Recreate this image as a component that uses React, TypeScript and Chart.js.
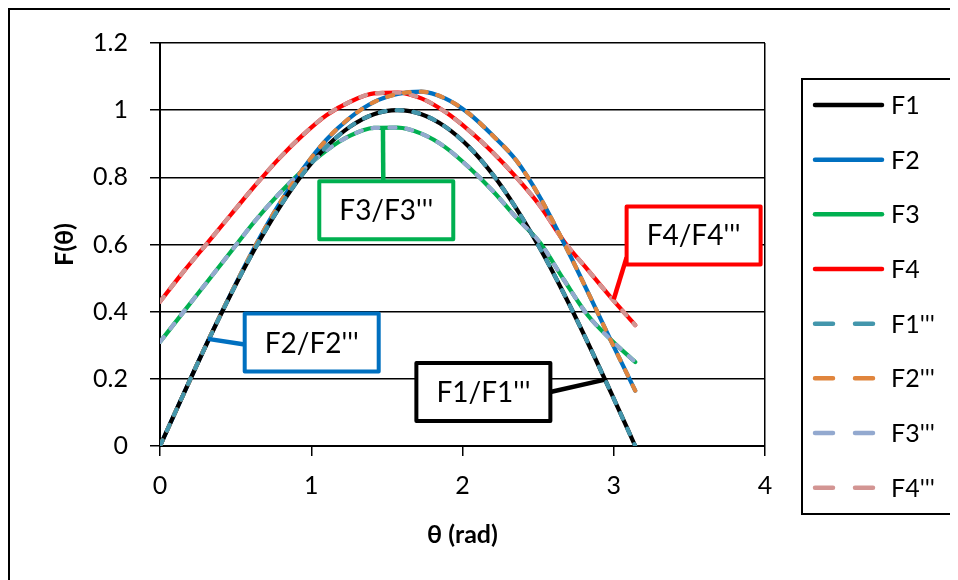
import React, { useEffect, useRef } from 'react';
import { Chart, registerables } from 'chart.js';

Chart.register(...registerables);

// ---- data ----
const theta = [0, 0.157, 0.314, 0.471, 0.628, 0.785, 0.942, 1.1, 1.257, 1.414, 1.571, 1.728, 1.885, 2.042, 2.199, 2.356, 2.513, 2.67, 2.827, 2.985, 3.142];
const F1 = [0, 0.156, 0.309, 0.454, 0.588, 0.707, 0.809, 0.891, 0.951, 0.988, 1.0, 0.988, 0.951, 0.891, 0.809, 0.707, 0.588, 0.454, 0.309, 0.156, 0];
const F2 = [0, 0.156, 0.31, 0.456, 0.594, 0.718, 0.823, 0.912, 0.978, 1.024, 1.048, 1.055, 1.035, 0.99, 0.925, 0.85, 0.74, 0.605, 0.46, 0.31, 0.165];
const F3 = [0.31, 0.4, 0.49, 0.58, 0.67, 0.75, 0.82, 0.88, 0.924, 0.947, 0.948, 0.93, 0.89, 0.83, 0.76, 0.68, 0.605, 0.495, 0.39, 0.315, 0.25];
const F4 = [0.43, 0.52, 0.605, 0.69, 0.775, 0.855, 0.925, 0.985, 1.025, 1.05, 1.052, 1.035, 0.995, 0.94, 0.875, 0.8, 0.715, 0.61, 0.525, 0.44, 0.36];
const F1ppp = [0, 0.156, 0.309, 0.454, 0.588, 0.707, 0.809, 0.891, 0.951, 0.988, 1.0, 0.988, 0.951, 0.891, 0.809, 0.707, 0.588, 0.454, 0.309, 0.156, 0];
const F2ppp = [0, 0.156, 0.31, 0.456, 0.594, 0.718, 0.823, 0.912, 0.978, 1.024, 1.048, 1.055, 1.035, 0.99, 0.925, 0.85, 0.74, 0.605, 0.46, 0.31, 0.165];
const F3ppp = [0.31, 0.4, 0.49, 0.58, 0.67, 0.75, 0.82, 0.88, 0.924, 0.947, 0.948, 0.93, 0.89, 0.83, 0.76, 0.68, 0.605, 0.495, 0.39, 0.315, 0.25];
const F4ppp = [0.43, 0.52, 0.605, 0.69, 0.775, 0.855, 0.925, 0.985, 1.025, 1.05, 1.052, 1.035, 0.995, 0.94, 0.875, 0.8, 0.715, 0.61, 0.525, 0.44, 0.36];

const seriesNames = ['F1', 'F2', 'F3', 'F4', "F1'''", "F2'''", "F3'''", "F4'''"];
const seriesValues = [F1, F2, F3, F4, F1ppp, F2ppp, F3ppp, F4ppp];
const seriesColors = ['#000000', '#0070C0', '#00B050', '#FF0000', '#4396AC', '#E0853D', '#93A9CF', '#D39593'];
const seriesDashed = [false, false, false, false, true, true, true, true];

const xTickLabels = ['0', '1', '2', '3', '4'];
const yTickLabels = ['0', '0.2', '0.4', '0.6', '0.8', '1', '1.2'];
const xTitle = 'θ (rad)';
const yTitle = 'F(θ)';

const calloutTexts = ["F3/F3'''", "F4/F4'''", "F2/F2'''", "F1/F1'''"];
const calloutColors = ['#00B050', '#FF0000', '#0070C0', '#000000'];
// box centre and pointer target in data units, side where the pointer leaves the box
const callouts = [
  { cx: 1.496, cy: 0.702, tx: 1.474, ty: 0.95, side: 'top', off: 0 },
  { cx: 3.528, cy: 0.627, tx: 3.0, ty: 0.437, side: 'left', off: 22 },
  { cx: 1.003, cy: 0.308, tx: 0.317, ty: 0.319, side: 'left', off: 2 },
  { cx: 2.138, cy: 0.161, tx: 2.935, ty: 0.197, side: 'right', off: 0 },
];

const FONT = 'Lato, "Open Sans", "DejaVu Sans", sans-serif';

const calloutPlugin = {
  id: 'callouts',
  afterDatasetsDraw(chart: any) {
    const { ctx, scales } = chart;
    const xs = scales.x, ys = scales.y;
    const W = 134, H = 58;
    callouts.forEach((c, i) => {
      const cx = xs.getPixelForValue(c.cx);
      const cy = ys.getPixelForValue(c.cy);
      const tx = xs.getPixelForValue(c.tx);
      const ty = ys.getPixelForValue(c.ty);
      const l = cx - W / 2, t = cy - H / 2;
      let sx = cx, sy = cy;
      if (c.side === 'top') { sx = cx - 3; sy = t; }
      if (c.side === 'left') { sx = l; sy = cy + c.off; }
      if (c.side === 'right') { sx = l + W; sy = cy + c.off; }
      ctx.save();
      ctx.strokeStyle = calloutColors[i];
      ctx.lineWidth = 4.5;
      ctx.lineCap = 'butt';
      ctx.beginPath();
      ctx.moveTo(sx, sy);
      ctx.lineTo(tx, ty);
      ctx.stroke();
      ctx.beginPath();
      ctx.lineJoin = 'round';
      ctx.lineWidth = 4;
      ctx.rect(l, t, W, H);
      ctx.fillStyle = '#ffffff';
      ctx.fill();
      ctx.stroke();
      ctx.fillStyle = '#000000';
      ctx.font = `28px ${FONT}`;
      ctx.textAlign = 'center';
      ctx.textBaseline = 'middle';
      ctx.fillText(calloutTexts[i], cx, cy + 1);
      ctx.restore();
    });
  },
};

const legendPlugin = {
  id: 'boxLegend',
  afterDraw(chart: any) {
    const { ctx } = chart;
    ctx.save();
    ctx.strokeStyle = '#000';
    ctx.lineWidth = 2;
    ctx.strokeRect(792, 69, 150, 435);
    chart.data.datasets.forEach((ds: any, i: number) => {
      const y = 95 + i * 54.67;
      ctx.strokeStyle = ds.borderColor;
      ctx.lineWidth = 4.5;
      ctx.lineCap = 'round';
      ctx.beginPath();
      if (ds.borderDash && ds.borderDash.length) {
        ctx.setLineDash([18, 22]);
        ctx.moveTo(805, y);
        ctx.lineTo(864, y);
      } else {
        ctx.setLineDash([]);
        ctx.moveTo(805, y);
        ctx.lineTo(872, y);
      }
      ctx.stroke();
      ctx.setLineDash([]);
      ctx.fillStyle = '#000';
      ctx.font = `25px ${FONT}`;
      ctx.textAlign = 'left';
      ctx.textBaseline = 'middle';
      ctx.fillText(ds.label, 881, y + 1);
    });
    ctx.restore();
  },
};

export default function App() {
  const ref = useRef<HTMLCanvasElement>(null);
  useEffect(() => {
    document.documentElement.style.overflow = 'hidden';
    document.body.style.overflow = 'hidden';
    const canvas = ref.current;
    if (!canvas) return;
    const datasets = seriesNames.map((name, i) => ({
      label: name,
      data: theta.map((t, j) => ({ x: t, y: seriesValues[i][j] })),
      borderColor: seriesColors[i],
      backgroundColor: seriesColors[i],
      borderWidth: 4.2,
      borderDash: seriesDashed[i] ? [6, 11] : [],
      borderCapStyle: 'round' as const,
      borderJoinStyle: 'round' as const,
      pointRadius: 0,
      fill: false,
      cubicInterpolationMode: 'monotone' as const,
      order: seriesDashed[i] ? 0 : 1,
    }));
    const chart = new Chart(canvas, {
      type: 'line',
      data: { datasets },
      plugins: [calloutPlugin, legendPlugin],
      options: {
        responsive: false,
        animation: false,
        devicePixelRatio: 1,
        layout: { padding: { left: 0, top: 33, right: 193, bottom: 0 } },
        plugins: { legend: { display: false }, tooltip: { enabled: false } },
        scales: {
          x: {
            type: 'linear',
            min: 0,
            max: 4,
            afterFit: (s: any) => { s.height = 134; s.paddingLeft = 0; s.paddingRight = 0; },
            ticks: {
              stepSize: 1,
              padding: 15,
              color: '#000',
              font: { family: FONT, size: 25 },
              callback: (_v: any, i: number) => xTickLabels[i],
            },
            grid: {
              color: (c: any) => (c.tick && c.tick.value === 4 ? '#000' : 'rgba(0,0,0,0)'),
              tickColor: '#000',
              lineWidth: 1.5,
              tickLength: 10,
            },
            border: { display: true, color: '#000', width: 2 },
            title: {
              display: true,
              text: xTitle,
              color: '#000',
              font: { family: FONT, size: 25, weight: 'bold' },
              padding: { top: 0, bottom: 30 },
            },
          },
          y: {
            type: 'linear',
            min: 0,
            max: 1.2,
            afterFit: (s: any) => { s.width = 150; s.paddingTop = 0; s.paddingBottom = 0; },
            ticks: {
              stepSize: 0.2,
              padding: 22,
              color: '#000',
              font: { family: FONT, size: 25 },
              callback: (_v: any, i: number) => yTickLabels[i],
            },
            grid: { color: '#000', tickColor: '#000', lineWidth: 1.5, tickLength: 10 },
            border: { display: true, color: '#000', width: 2 },
            title: {
              display: true,
              text: yTitle,
              color: '#000',
              font: { family: FONT, size: 25, weight: 'bold' },
              padding: { top: 40, bottom: 0 },
            },
          },
        },
      },
    } as any);
    return () => chart.destroy();
  }, []);
  return (
    <div style={{ width: 948, height: 570, borderTop: '2px solid #000', borderLeft: '2px solid #000', background: '#fff' }}>
      <canvas ref={ref} width={948} height={570} style={{ display: 'block' }} />
    </div>
  );
}
